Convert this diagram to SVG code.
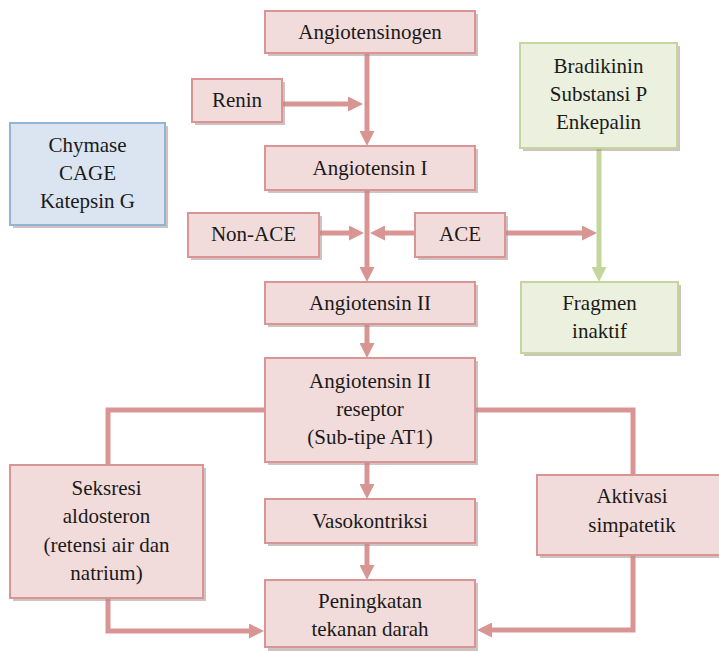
<svg xmlns="http://www.w3.org/2000/svg" width="719" height="651" viewBox="0 0 719 651">
<defs>
<style>
.box{fill:#f2dcdb;stroke:#d99594;stroke-width:2}
.gbox{fill:#ebf1de;stroke:#c3d69b;stroke-width:2}
.bbox{fill:#dbe5f1;stroke:#95b3d7;stroke-width:2}
.sh{fill:#a88f8e;opacity:0.55}
text{font-size:21px;fill:#1a1a1a;text-anchor:middle}
.c{fill:none;stroke:#d99594;stroke-width:5;stroke-linejoin:miter}
.cg{fill:none;stroke:#c3d69b;stroke-width:5}
</style>
<marker id="ar" viewBox="0 0 15 15" markerWidth="15" markerHeight="15" markerUnits="userSpaceOnUse" refX="5" refY="7.5" orient="auto"><path d="M0,0 L15,7.5 L0,15 Z" fill="#d99594"/></marker>
<marker id="ag" viewBox="0 0 15 15" markerWidth="15" markerHeight="15" markerUnits="userSpaceOnUse" refX="5" refY="7.5" orient="auto"><path d="M0,0 L15,7.5 L0,15 Z" fill="#c3d69b"/></marker>
</defs>
<rect width="719" height="651" fill="#ffffff"/>
<g id="connectors">
<line class="c" x1="367" y1="53" x2="367" y2="136" marker-end="url(#ar)"/>
<line class="c" x1="282" y1="104" x2="353" y2="104" marker-end="url(#ar)"/>
<line class="c" x1="367" y1="190" x2="367" y2="272" marker-end="url(#ar)"/>
<line class="c" x1="319" y1="233" x2="354" y2="233" marker-end="url(#ar)"/>
<line class="c" x1="415" y1="233" x2="380" y2="233" marker-end="url(#ar)"/>
<line class="c" x1="505" y1="233" x2="587" y2="233" marker-end="url(#ar)"/>
<line class="cg" x1="599" y1="148" x2="599" y2="272" marker-end="url(#ag)"/>
<line class="c" x1="367" y1="324" x2="367" y2="348" marker-end="url(#ar)"/>
<line class="c" x1="367" y1="462" x2="367" y2="489" marker-end="url(#ar)"/>
<line class="c" x1="367" y1="543" x2="367" y2="570" marker-end="url(#ar)"/>
<polyline class="c" points="265,410 108,410 108,465"/>
<polyline class="c" points="108,598 108,631 254,631" marker-end="url(#ar)"/>
<polyline class="c" points="475,410 633,410 633,475"/>
<polyline class="c" points="633,555 633,630 487,630" marker-end="url(#ar)"/>
</g>
<g font-family="Liberation Serif, Times New Roman, Tinos, DejaVu Serif, Noto Serif, FreeSerif, serif">
<g id="angiotensinogen">
<rect class="sh" x="268" y="14" width="210" height="42"/>
<rect class="box" x="265" y="11" width="210" height="42"/>
<text x="370" y="39">Angiotensinogen</text>
</g>
<g id="renin">
<rect class="sh" x="195" y="82" width="90" height="43"/>
<rect class="box" x="192" y="79" width="90" height="43"/>
<text x="237" y="107">Renin</text>
</g>
<g id="chymase">
<rect class="sh" x="13" y="126" width="155" height="102"/>
<rect class="bbox" x="10" y="123" width="155" height="102"/>
<text x="87.5" y="152">Chymase</text>
<text x="87.5" y="180">CAGE</text>
<text x="87.5" y="208">Katepsin G</text>
</g>
<g id="bradikinin">
<rect class="sh" x="523" y="46" width="157" height="105"/>
<rect class="gbox" x="520" y="43" width="157" height="105"/>
<text x="598.5" y="73">Bradikinin</text>
<text x="598.5" y="101">Substansi P</text>
<text x="598.5" y="129">Enkepalin</text>
</g>
<g id="angiotensin1">
<rect class="sh" x="268" y="149" width="210" height="44"/>
<rect class="box" x="265" y="146" width="210" height="44"/>
<text x="370" y="175">Angiotensin I</text>
</g>
<g id="nonace">
<rect class="sh" x="191" y="216" width="131" height="44"/>
<rect class="box" x="188" y="213" width="131" height="44"/>
<text x="253.5" y="241">Non-ACE</text>
</g>
<g id="ace">
<rect class="sh" x="418" y="216" width="90" height="44"/>
<rect class="box" x="415" y="213" width="90" height="44"/>
<text x="460" y="241">ACE</text>
</g>
<g id="angiotensin2">
<rect class="sh" x="268" y="285" width="210" height="42"/>
<rect class="box" x="265" y="282" width="210" height="42"/>
<text x="370" y="310">Angiotensin II</text>
</g>
<g id="fragmen">
<rect class="sh" x="524" y="285" width="157" height="71"/>
<rect class="gbox" x="521" y="282" width="157" height="71"/>
<text x="599.5" y="310">Fragmen</text>
<text x="599.5" y="338">inaktif</text>
</g>
<g id="reseptor">
<rect class="sh" x="268" y="361" width="210" height="104"/>
<rect class="box" x="265" y="358" width="210" height="104"/>
<text x="370" y="388">Angiotensin II</text>
<text x="370" y="416">reseptor</text>
<text x="370" y="444">(Sub-tipe AT1)</text>
</g>
<g id="seksresi">
<rect class="sh" x="13" y="468" width="193" height="133"/>
<rect class="box" x="10" y="465" width="193" height="133"/>
<text x="106.5" y="495">Seksresi</text>
<text x="106.5" y="523">aldosteron</text>
<text x="106.5" y="552">(retensi air dan</text>
<text x="106.5" y="580">natrium)</text>
</g>
<g id="vasokontriksi">
<rect class="sh" x="268" y="502" width="210" height="44"/>
<rect class="box" x="265" y="499" width="210" height="44"/>
<text x="370" y="528">Vasokontriksi</text>
</g>
<g id="aktivasi">
<rect class="sh" x="540" y="478" width="190" height="80"/>
<rect class="box" x="537" y="475" width="190" height="80"/>
<text x="632" y="503">Aktivasi</text>
<text x="632" y="532">simpatetik</text>
</g>
<g id="peningkatan">
<rect class="sh" x="268" y="583" width="210" height="68"/>
<rect class="box" x="265" y="580" width="210" height="67"/>
<text x="370" y="608">Peningkatan</text>
<text x="370" y="636">tekanan darah</text>
</g>
</g>
</svg>
